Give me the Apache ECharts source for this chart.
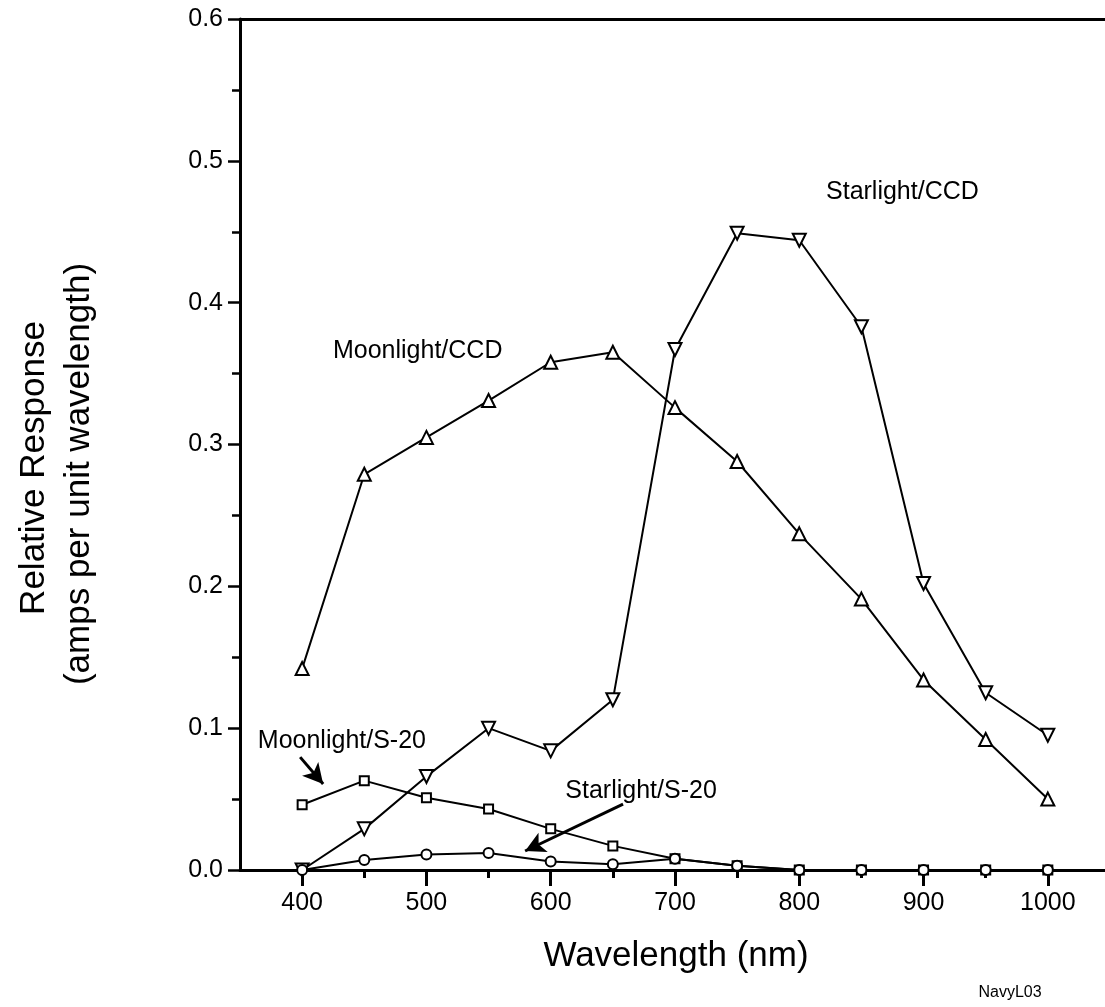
<!DOCTYPE html>
<html>
<head>
<meta charset="utf-8">
<script src="https://cdn.jsdelivr.net/npm/echarts@6/dist/echarts.min.js"></script>
<style>
html,body{margin:0;padding:0;background:#fff;}
#chart{width:1105px;height:1007px;}
</style>
</head>
<body>
<div id="chart"></div>
<script>
// ---- data ----
const wavelengths = [400, 450, 500, 550, 600, 650, 700, 750, 800, 850, 900, 950, 1000];
const moonlightCCD = [0.142, 0.279, 0.305, 0.331, 0.358, 0.365, 0.326, 0.288, 0.237, 0.191, 0.134, 0.092, 0.050];
const starlightCCD = [0.000, 0.029, 0.066, 0.100, 0.084, 0.120, 0.367, 0.449, 0.444, 0.383, 0.202, 0.125, 0.095];
const moonlightS20 = [0.046, 0.063, 0.051, 0.043, 0.029, 0.017, 0.008, 0.003, 0.000, 0.000, 0.000, 0.000, 0.000];
const starlightS20 = [0.000, 0.007, 0.011, 0.012, 0.006, 0.004, 0.008, 0.003, 0.000, 0.000, 0.000, 0.000, 0.000];
const xMajorTicks = [400, 500, 600, 700, 800, 900, 1000];
const xMinorTicks = [450, 550, 650, 750, 850, 950];
const yTickLabels = ['0.0', '0.1', '0.2', '0.3', '0.4', '0.5', '0.6'];
const seriesNames = ['Moonlight/CCD', 'Starlight/CCD', 'Moonlight/S-20', 'Starlight/S-20'];
// annotation label anchors (data coords)
const labelAnchors = [[883, 0.478], [493, 0.3655], [432, 0.0908], [672.7, 0.0556]];
const arrowMoon = [[398.4, 0.0796], [416.9, 0.0606]];
const arrowStar = [[658.2, 0.0465], [579.4, 0.0134]];

const FONT = '"Liberation Sans", Arial, Helvetica, sans-serif';
const chart = echarts.init(document.getElementById('chart'), null, {renderer: 'canvas'});

function pairs(ys) { return wavelengths.map((x, i) => [x, ys[i]]); }

function lineSeries(name, ys, symbol, size, rotate, extra) {
  return Object.assign({
    name: name,
    type: 'line',
    data: pairs(ys),
    symbol: symbol,
    symbolSize: size,
    symbolRotate: rotate,
    showAllSymbol: true,
    clip: false,
    lineStyle: {color: '#000', width: 2},
    itemStyle: {color: '#000', borderColor: '#000', borderWidth: 2},
    emphasis: {disabled: true}
  }, extra || {});
}

const arrowLine = (pts) => [{coord: pts[0]}, {coord: pts[1]}];
const X_MIN = 350, X_MAX = 1046;

const option = {
  animation: false,
  backgroundColor: '#fff',
  grid: {left: 240, top: 19, right: 0, bottom: 137, show: false},
  xAxis: [{
    type: 'value', min: X_MIN, max: X_MAX, interval: 50,
    position: 'bottom',
    axisLine: {show: true, onZero: false, lineStyle: {color: '#000', width: 3}},
    axisTick: {show: true, customValues: xMajorTicks, length: 16, lineStyle: {color: '#000', width: 3}},
    axisLabel: {customValues: xMajorTicks, color: '#000', fontSize: 25, fontFamily: FONT, margin: 21,
      formatter: (v) => String(v)},
    splitLine: {show: false}
  }, {
    type: 'value', min: X_MIN, max: X_MAX, interval: 50,
    position: 'bottom', offset: 0,
    axisLine: {show: false},
    axisTick: {show: true, customValues: xMinorTicks, length: 8, lineStyle: {color: '#000', width: 3}},
    axisLabel: {show: false},
    splitLine: {show: false}
  }, {
    type: 'value', min: X_MIN, max: X_MAX, interval: 50,
    position: 'top', offset: 0,
    axisLine: {show: true, onZero: false, lineStyle: {color: '#000', width: 3}},
    axisTick: {show: false},
    axisLabel: {show: false},
    splitLine: {show: false}
  }],
  yAxis: {
    type: 'value', min: 0, max: 0.6, interval: 0.1,
    axisLine: {show: true, onZero: false, lineStyle: {color: '#000', width: 3}},
    axisTick: {show: true, length: 12, lineStyle: {color: '#000', width: 2.5}},
    minorTick: {show: true, splitNumber: 2, length: 8, lineStyle: {color: '#000', width: 2.5}},
    axisLabel: {
      color: '#000', fontSize: 25, fontFamily: FONT, margin: 17,
      formatter: (v) => yTickLabels[Math.round(v * 10)]
    },
    splitLine: {show: false}
  },
  series: [
    lineSeries(seriesNames[0], moonlightCCD, 'emptyTriangle', 13, 0),
    lineSeries(seriesNames[1], starlightCCD, 'emptyTriangle', 13, 180),
    lineSeries(seriesNames[2], moonlightS20, 'emptyRect', 9, 0, {
      markLine: {
        silent: true, symbol: ['none', 'arrow'], symbolSize: [16, 20],
        label: {show: false},
        lineStyle: {color: '#000', width: 3, type: 'solid'},
        data: [arrowLine(arrowMoon), arrowLine(arrowStar)]
      }
    }),
    lineSeries(seriesNames[3], starlightS20, 'emptyCircle', 10, 0)
  ]
};
chart.setOption(option);

const labelTexts = [seriesNames[1], seriesNames[0], seriesNames[2], seriesNames[3]];
const graphics = labelTexts.map((t, i) => {
  const p = chart.convertToPixel({gridIndex: 0}, labelAnchors[i]);
  return {
    type: 'text', x: p[0], y: p[1], z: 100,
    style: {text: t, fill: '#000', font: '25px ' + FONT, textAlign: 'center', textVerticalAlign: 'middle'}
  };
});
graphics.push({
  type: 'text', x: 676, y: 956, z: 100,
  style: {text: 'Wavelength (nm)', fill: '#000', font: '35px ' + FONT, textAlign: 'center', textVerticalAlign: 'middle'}
});
graphics.push({
  type: 'text', x: 34, y: 468, rotation: Math.PI / 2, z: 100,
  style: {text: 'Relative Response', fill: '#000', font: '35px ' + FONT, textAlign: 'center', textVerticalAlign: 'middle'}
});
graphics.push({
  type: 'text', x: 79, y: 474, rotation: Math.PI / 2, z: 100,
  style: {text: '(amps per unit wavelength)', fill: '#000', font: '35px ' + FONT, textAlign: 'center', textVerticalAlign: 'middle'}
});
graphics.push({
  type: 'text', x: 1010, y: 993, z: 100,
  style: {text: 'NavyL03', fill: '#000', font: '16px ' + FONT, textAlign: 'center', textVerticalAlign: 'middle'}
});
chart.setOption({graphic: graphics});
</script>
</body>
</html>
